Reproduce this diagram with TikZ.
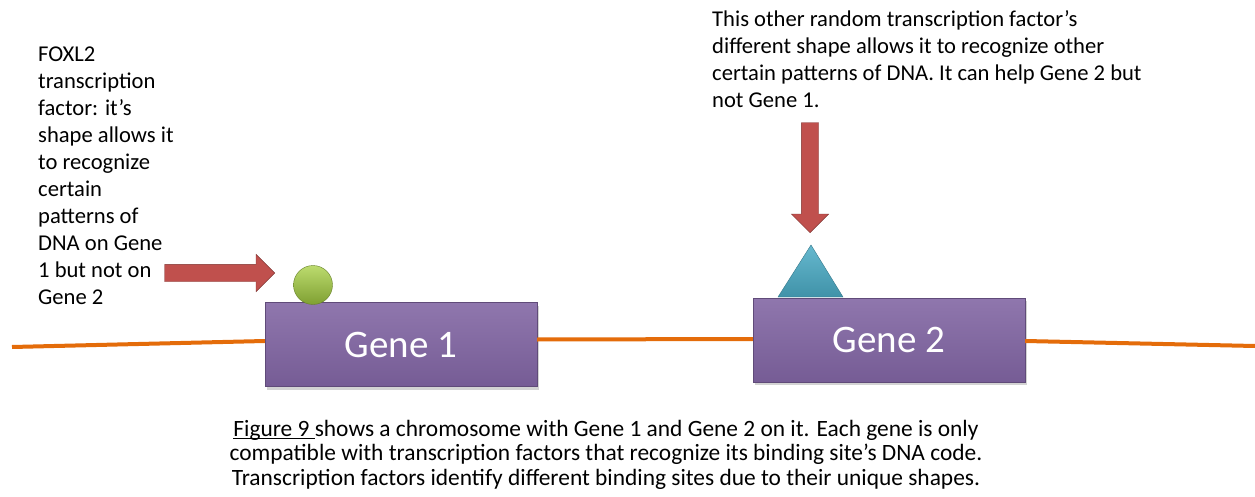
\documentclass[tikz,border=0pt]{standalone}
\usepackage{fontspec}
\setmainfont{Carlito}
\usetikzlibrary{shapes.arrows,shadows}

\definecolor{genepurple}{HTML}{8064A2}
\definecolor{arrowred}{HTML}{C0504D}
\definecolor{chromorange}{HTML}{E46C0A}
\definecolor{tfgreen}{HTML}{9BBB59}
\definecolor{tfgreenhi}{HTML}{BCDB6E}
\definecolor{tfgreenlo}{HTML}{7FA032}
\definecolor{tfblue}{HTML}{4BACC6}

% underline that sits close to the baseline
\newcommand{\capul}[1]{\setbox0\hbox{#1}\rlap{\rule[-3pt]{\wd0}{1.3pt}}\box0}

\tikzset{
    gene/.style={draw=genepurple!75!black, top color=genepurple!88!white, bottom color=genepurple!92!black,
        minimum width=272pt, minimum height=84pt, inner sep=0pt, text=white,
        font=\fontsize{39}{42}\selectfont,
        drop shadow={shadow xshift=2pt, shadow yshift=-3pt, opacity=0.35}},
    chrom/.style={chromorange, line width=4pt},
    redarrow/.style={single arrow, draw=arrowred!65!black, fill=arrowred, inner sep=8.5pt,
        single arrow head extend=10pt, minimum height=110pt},
    note/.style={align=left, inner sep=0pt, font=\fontsize{22.6}{27}\selectfont},
    caption/.style={align=center, inner sep=0pt, font=\fontsize{23.4}{24.5}\selectfont},
}

\begin{document}
\begin{tikzpicture}[x=1pt, y=-1pt]

    \useasboundingbox (0,0) rectangle (1255,497);

    % genes on the chromosome
    \node[gene] (g1) at (401,344.5) {Gene 1};
    \node[gene] (g2) at (889,340) {Gene 2};

    \coordinate (cl) at (12,347);
    \coordinate (cr) at (1255,346);
    \draw[chrom] (cl) -- ([yshift=3.5pt]g1.west);
    \draw[chrom] ([yshift=5pt]g1.east) -- ([yshift=1pt]g2.west);
    \draw[chrom] ([yshift=-1pt]g2.east) -- (cr);

    % transcription factors
    \node[circle, minimum size=39pt, inner sep=0pt, draw=tfgreenlo!80!black,
        top color=tfgreenhi, bottom color=tfgreenlo] (tfa) at (313,285) {};
    \draw[draw=tfblue!70!black, top color=tfblue!85!white, bottom color=tfblue!85!black]
        (778,297) coordinate (tb1) -- (811,245) coordinate (tb2) -- (843,297) coordinate (tb3) -- cycle;

    % pointers
    \node[redarrow, anchor=tip] (pa) at (275,273) {};
    \node[redarrow, anchor=tip, rotate=-90] (pb) at (810,233) {};

    % texts
    \node[note, anchor=north west] (na) at (38,47) {FOXL2\\ transcription\\ factor: it’s\\ shape allows it\\
        to recognize\\ certain\\ patterns of\\ DNA on Gene\\ 1 but not on\\ Gene 2};
    \node[note, anchor=north west] (nb) at (712,10) {This other random transcription factor’s\\
        different shape allows it to recognize other\\ certain patterns of DNA. It can help Gene 2 but\\ not Gene 1.};

    \node[caption, anchor=north] (cap) at (606,420) {\capul{Figure 9\ }shows a chromosome with Gene 1 and Gene 2 on it. Each gene is only\\
        compatible with transcription factors that recognize its binding site’s DNA code.\\
        Transcription factors identify different binding sites due to their unique shapes.};

\end{tikzpicture}
\end{document}
